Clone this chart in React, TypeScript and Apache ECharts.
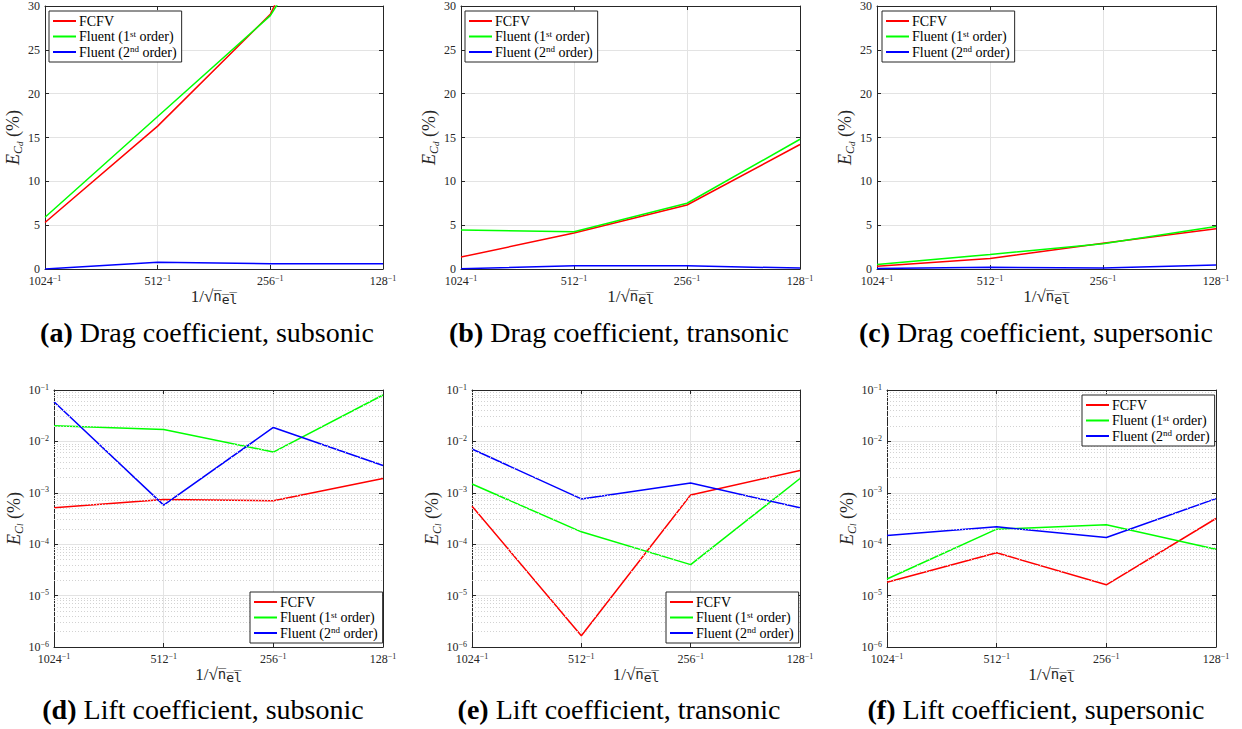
import React, { useEffect, useRef } from "react";
import * as echarts from "echarts";

// ---------- data ----------
const categories = ["1024", "512", "256", "128"];
const seriesNames = ["FCFV", "Fluent (1st order)", "Fluent (2nd order)"];
const seriesColors = ["#ff0000", "#00ff00", "#0000ff"];

const dragSubFCFV = [5.3, 16.3, 29.05, 56];
const dragSubFluent1 = [5.9, 17.4, 28.9, 49.5];
const dragSubFluent2 = [0, 0.76, 0.6, 0.6];

const dragTransFCFV = [1.36, 4.1, 7.3, 14.2];
const dragTransFluent1 = [4.46, 4.24, 7.5, 14.8];
const dragTransFluent2 = [0.02, 0.38, 0.36, 0.1];

const dragSupFCFV = [0.3, 1.2, 2.95, 4.6];
const dragSupFluent1 = [0.5, 1.66, 2.88, 4.85];
const dragSupFluent2 = [0.05, 0.2, 0.1, 0.45];

const liftSubFCFV = [5.1e-4, 7.4e-4, 7.0e-4, 1.9e-3];
const liftSubFluent1 = [0.0202, 0.0171, 6.2e-3, 0.08];
const liftSubFluent2 = [0.059, 5.75e-4, 0.0187, 3.4e-3];

const liftTransFCFV = [5.5e-4, 1.66e-6, 9.1e-4, 2.72e-3];
const liftTransFluent1 = [1.48e-3, 1.74e-4, 4.0e-5, 1.9e-3];
const liftTransFluent2 = [7.1e-3, 7.6e-4, 1.55e-3, 5.1e-4];

const liftSupFCFV = [1.82e-5, 6.8e-5, 1.62e-5, 3.16e-4];
const liftSupFluent1 = [2.1e-5, 1.96e-4, 2.4e-4, 8.0e-5];
const liftSupFluent2 = [1.48e-4, 2.18e-4, 1.35e-4, 7.7e-4];

const dragMin = 0;
const dragMax = 30;
const dragInterval = 5;
const logMin = 1e-6;
const logMax = 1e-1;
const logExpMin = -6;
const logExpMax = -1;
const logDecades = [-6, -5, -4, -3, -2];
const minorMultipliers = [2, 3, 4, 5, 6, 7, 8, 9];

const captionLabels = ["(a)", "(b)", "(c)", "(d)", "(e)", "(f)"];
const captionTexts = [
  "Drag coefficient, subsonic",
  "Drag coefficient, transonic",
  "Drag coefficient, supersonic",
  "Lift coefficient, subsonic",
  "Lift coefficient, transonic",
  "Lift coefficient, supersonic",
];

// ---------- layout ----------
const SERIF = "Liberation Serif";
const MONO = "DejaVu Sans Mono";
const INK = "#262626";

const panels = [
  { grid: { left: 45, top: 5, width: 338, height: 264 }, log: false, data: [dragSubFCFV, dragSubFluent1, dragSubFluent2], legend: { left: 49, top: 11 }, cap: { x: 207, y: 316 }, yGap: 19 },
  { grid: { left: 461, top: 5, width: 339, height: 264 }, log: false, data: [dragTransFCFV, dragTransFluent1, dragTransFluent2], legend: { left: 465, top: 11 }, cap: { x: 619, y: 316 }, yGap: 19 },
  { grid: { left: 877, top: 5, width: 339, height: 264 }, log: false, data: [dragSupFCFV, dragSupFluent1, dragSupFluent2], legend: { left: 882, top: 11 }, cap: { x: 1036, y: 316 }, yGap: 19 },
  { grid: { left: 54, top: 390, width: 329, height: 257 }, log: true, data: [liftSubFCFV, liftSubFluent1, liftSubFluent2], legend: { left: 250, top: 592 }, cap: { x: 203, y: 693 }, yGap: 28 },
  { grid: { left: 472, top: 390, width: 328, height: 257 }, log: true, data: [liftTransFCFV, liftTransFluent1, liftTransFluent2], legend: { left: 666, top: 592 }, cap: { x: 619, y: 693 }, yGap: 28 },
  { grid: { left: 887, top: 390, width: 329, height: 257 }, log: true, data: [liftSupFCFV, liftSupFluent1, liftSupFluent2], legend: { left: 1082, top: 395 }, cap: { x: 1036, y: 693 }, yGap: 28 },
];

const tickRich = {
  b: { fontFamily: SERIF, fontSize: 12, color: INK, lineHeight: 14 },
  s: { fontFamily: SERIF, fontSize: 8, color: INK, lineHeight: 8, verticalAlign: "top" as const },
};

const xNameRich = {
  a: { fontFamily: SERIF, fontSize: 17, color: INK, lineHeight: 20 },
  n: { fontFamily: MONO, fontSize: 14, color: INK, lineHeight: 20 },
  e: { fontFamily: MONO, fontSize: 13, color: INK, lineHeight: 14, verticalAlign: "bottom" as const },
};

const yNameRich = {
  i: { fontFamily: SERIF, fontSize: 18, fontStyle: "italic" as const, color: INK, lineHeight: 22 },
  c: { fontFamily: SERIF, fontSize: 12, fontStyle: "italic" as const, color: INK, lineHeight: 14, verticalAlign: "bottom" as const },
  d: { fontFamily: SERIF, fontSize: 9, fontStyle: "italic" as const, color: INK, lineHeight: 8, verticalAlign: "bottom" as const },
  r: { fontFamily: SERIF, fontSize: 18, color: INK, lineHeight: 22 },
};

const legendRich = {
  t: { fontFamily: SERIF, fontSize: 14, color: "#000", lineHeight: 15 },
  s: { fontFamily: SERIF, fontSize: 9, color: "#000", lineHeight: 8, verticalAlign: "top" as const },
};

function legendFormat(name: string) {
  const m = name.match(/^(.*\()(\d)(st|nd)( order\))$/);
  if (!m) return `{t|${name}}`;
  return `{t|${m[1]}${m[2]}}{s|${m[3]}}{t|${m[4]}}`;
}

function buildOption() {
  const grid: any[] = [];
  const xAxis: any[] = [];
  const yAxis: any[] = [];
  const series: any[] = [];
  const legend: any[] = [];
  const title: any[] = [];

  panels.forEach((p, i) => {
    grid.push({ ...p.grid, containLabel: false });

    const frameLine = { show: true, onZero: false, lineStyle: { color: INK, width: 1 } };
    const tick = { show: true, inside: true, length: 4, lineStyle: { color: INK } };

    xAxis.push({
      gridIndex: i,
      type: "category",
      data: categories,
      boundaryGap: false,
      position: "bottom",
      axisLine: frameLine,
      axisTick: { ...tick, alignWithLabel: true },
      axisLabel: {
        margin: 5,
        fontFamily: SERIF,
        formatter: (v: string) => `{b|${v}}{s|\u22121}`,
        rich: tickRich,
      },
      splitLine: { show: true, lineStyle: { color: "#e3e3e3", width: 1 } },
      name: "{a|1/\u221A}{n|n\u0305}{e|e\u0305l\u0305}",
      nameLocation: "middle",
      nameGap: 16,
      nameTextStyle: { fontFamily: SERIF, rich: xNameRich },
    });
    xAxis.push({
      gridIndex: i,
      type: "category",
      data: categories,
      boundaryGap: false,
      position: "top",
      axisLine: frameLine,
      axisTick: tick,
      axisLabel: { show: false },
      splitLine: { show: false },
    });

    const yBase: any = p.log
      ? { type: "log", logBase: 10, min: logMin, max: logMax }
      : { type: "value", min: dragMin, max: dragMax, interval: dragInterval };

    yAxis.push({
      ...yBase,
      gridIndex: i,
      position: "left",
      axisLine: frameLine,
      axisTick: tick,
      axisLabel: p.log
        ? {
            margin: 5,
            fontFamily: SERIF,
            formatter: (v: number) => `{b|10}{s|\u2212${-Math.round(Math.log10(v))}}`,
            rich: tickRich,
          }
        : { margin: 5, fontFamily: SERIF, fontSize: 12, color: INK },
      splitLine: { show: true, lineStyle: { color: "#e3e3e3", width: 1 } },
      name: p.log ? "{i|E}{c|C}{d|l}{r| (%)}" : "{i|E}{c|C}{d|d}{r| (%)}",
      nameLocation: "middle",
      nameRotate: 90,
      nameGap: p.yGap,
      nameTextStyle: { fontFamily: SERIF, rich: yNameRich },
    });
    // right frame axis (for log panels: exponent space, carries the minor grid)
    yAxis.push(
      p.log
        ? {
            type: "value",
            min: logExpMin,
            max: logExpMax,
            interval: 1,
            gridIndex: i,
            position: "right",
            axisLine: frameLine,
            axisTick: tick,
            axisLabel: { show: false },
            splitLine: { show: false },
          }
        : {
            ...yBase,
            gridIndex: i,
            position: "right",
            axisLine: frameLine,
            axisTick: tick,
            axisLabel: { show: false },
            splitLine: { show: false },
          }
    );

    if (p.log) {
      const minorExps: number[] = [];
      logDecades.forEach((d) => minorMultipliers.forEach((m) => minorExps.push(d + Math.log10(m))));
      series.push({
        type: "line",
        xAxisIndex: 2 * i,
        yAxisIndex: 2 * i + 1,
        data: [],
        z: 1,
        silent: true,
        markLine: {
          silent: true,
          symbol: ["none", "none"],
          label: { show: false },
          lineStyle: { color: "#d2d2d2", width: 1, type: [1, 2] },
          data: minorExps.map((v) => ({ yAxis: v })),
        },
      });
    }

    p.data.forEach((vals, k) => {
      series.push({
        type: "line",
        name: seriesNames[k],
        xAxisIndex: 2 * i,
        yAxisIndex: 2 * i,
        data: vals,
        symbol: "none",
        showSymbol: false,
        clip: true,
        z: 3,
        color: seriesColors[k],
        lineStyle: { color: seriesColors[k], width: 1.5 },
      });
    });

    legend.push({
      data: seriesNames,
      orient: "vertical",
      left: p.legend.left,
      top: p.legend.top,
      selectedMode: false,
      backgroundColor: "#fff",
      borderColor: INK,
      borderWidth: 1,
      borderRadius: 0,
      padding: [3, 5, 3, 4],
      itemGap: 1,
      itemWidth: 23,
      itemHeight: 2,
      icon: "rect",
      z: 10,
      formatter: legendFormat,
      textStyle: { fontFamily: SERIF, rich: legendRich, padding: [0, 0, 0, -2] },
    });

    title.push({
      text: `{b|${captionLabels[i]}} {r|${captionTexts[i]}}`,
      left: p.cap.x,
      top: p.cap.y,
      textAlign: "center",
      padding: 0,
      textStyle: {
        fontFamily: SERIF,
        fontWeight: "normal",
        fontSize: 28,
        rich: {
          b: { fontFamily: SERIF, fontSize: 28, fontWeight: "bold", color: "#000", lineHeight: 33 },
          r: { fontFamily: SERIF, fontSize: 28, fontWeight: "normal", color: "#000", lineHeight: 33 },
        },
      },
    });
  });

  return {
    animation: false,
    backgroundColor: "#ffffff",
    textStyle: { fontFamily: SERIF },
    title,
    grid,
    xAxis,
    yAxis,
    legend,
    series,
  };
}

export default function App() {
  const ref = useRef<HTMLDivElement>(null);
  useEffect(() => {
    if (!ref.current) return;
    const chart = echarts.init(ref.current, null, { renderer: "svg" });
    chart.setOption(buildOption() as any);
    return () => chart.dispose();
  }, []);
  return (
    <div
      ref={ref}
      style={{ position: "fixed", left: 0, top: 0, width: 1242, height: 729, background: "#fff" }}
    />
  );
}
